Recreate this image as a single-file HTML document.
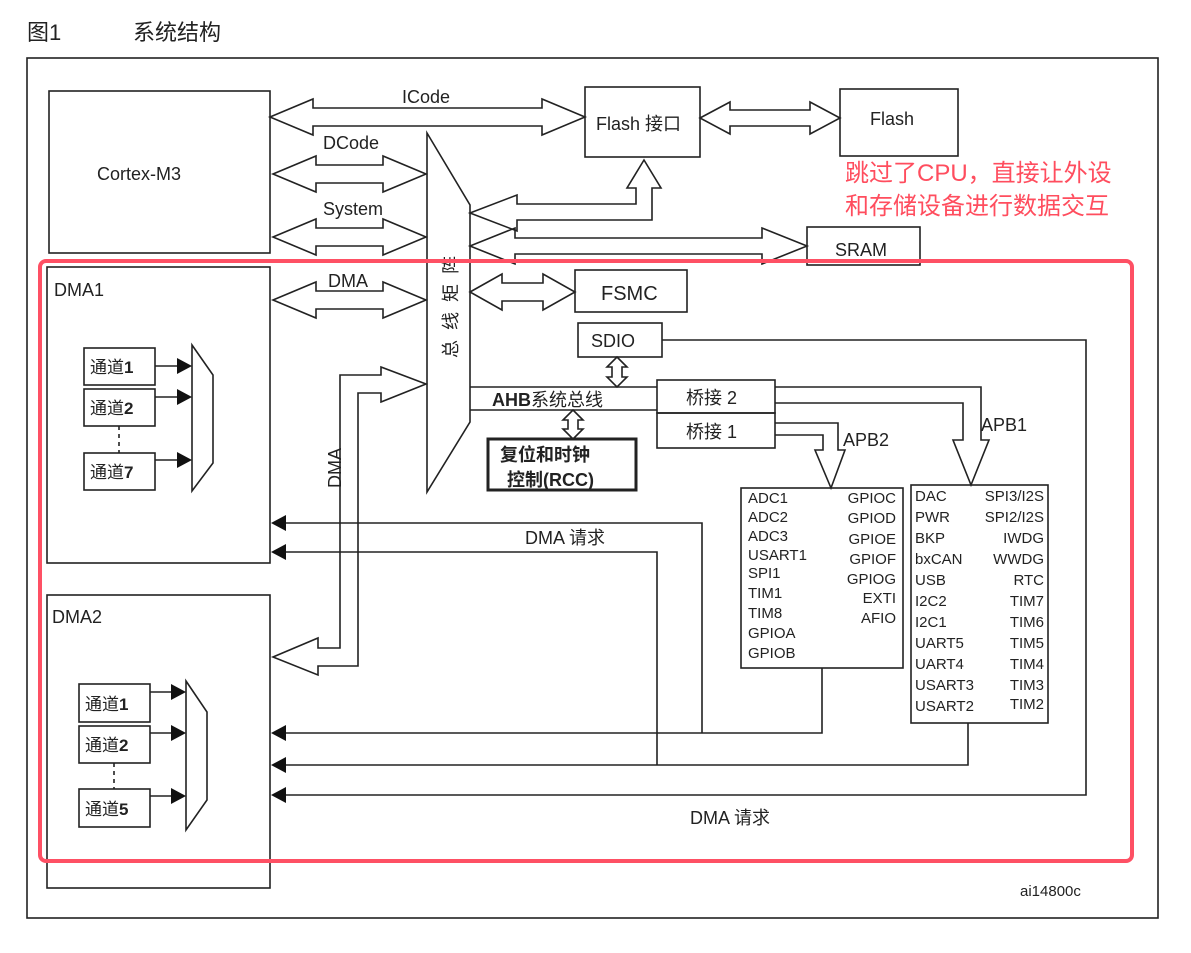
<!DOCTYPE html>
<html><head><meta charset="utf-8"><style>
html,body{margin:0;padding:0;background:#fff;}
svg{display:block;font-family:"Liberation Sans","Noto Sans CJK SC",sans-serif;}
</style></head><body>
<svg width="1191" height="953" viewBox="0 0 1191 953" xmlns="http://www.w3.org/2000/svg">
<text x="27" y="40" font-size="22" fill="#222">图1</text>
<text x="133" y="40" font-size="22" fill="#222">系统结构</text>
<g fill="none" stroke="#222" stroke-width="1.6">
<rect x="27" y="58" width="1131" height="860"/>
<rect x="49" y="91" width="221" height="162"/>
<rect x="47" y="267" width="223" height="296"/>
<rect x="47" y="595" width="223" height="293"/>
<rect x="585" y="87" width="115" height="70"/>
<rect x="840" y="89" width="118" height="67"/>
<rect x="807" y="227" width="113" height="38"/>
<rect x="575" y="270" width="112" height="42"/>
<rect x="578" y="323" width="84" height="34"/>
<rect x="488" y="439" width="148" height="51" stroke-width="3"/>
<rect x="657" y="380" width="118" height="33"/>
<rect x="657" y="413" width="118" height="35"/>
<rect x="741" y="488" width="162" height="180"/>
<rect x="911" y="485" width="137" height="238"/>
<polygon points="427,133 470,205 470,422 427,492" fill="#fff"/>
<polygon points="270,117 313,99 313,108 542,108 542,99 585,117 542,135 542,126 313,126 313,135"/>
<polygon points="273,174 316,156 316,165 383,165 383,156 426,174 383,192 383,183 316,183 316,192"/>
<polygon points="273,237 316,219 316,228 383,228 383,219 426,237 383,255 383,246 316,246 316,255"/>
<polygon points="273,300 316,282 316,291 383,291 383,282 426,300 383,318 383,309 316,309 316,318"/>
<polygon points="470,292 502,274 502,283 543,283 543,274 575,292 543,310 543,301 502,301 502,310"/>
<polygon points="700,118 730,102 730,110 810,110 810,102 840,118 810,134 810,126 730,126 730,134"/>
<polygon points="470,246 515,228 515,238 762,238 762,228 807,246 762,264 762,254 515,254 515,264"/>
<polygon points="470,213 517,195 517,204 636,204 636,188 627,188 644,160 661,188 652,188 652,220 517,220 517,231"/>
<polygon points="426,384 381,367 381,375 340,375 340,648 318,648 318,638 273,657 318,675 318,666 358,666 358,393 381,393 381,402"/>
<polygon points="617,357 627,367 622,367 622,377 627,377 617,387 607,377 612,377 612,367 607,367"/>
<polygon points="573,410 583,420 578,420 578,429 583,429 573,439 563,429 568,429 568,420 563,420"/>
<line x1="470" y1="387" x2="657" y2="387"/>
<line x1="470" y1="410" x2="657" y2="410"/>
<polyline points="775,423 838,423 838,450 845,450 831,488 815,450 823,450 823,435 775,435"/>
<polyline points="775,387 981,387 981,440 989,440 971,485 953,440 963,440 963,403 775,403"/>
<polyline points="284,523 702,523 702,733"/>
<polyline points="284,552 657,552 657,765"/>
<polyline points="284,733 822,733 822,668"/>
<polyline points="284,765 968,765 968,723"/>
<polyline points="662,340 1086,340 1086,795 284,795"/>
<rect x="84" y="348" width="71" height="37"/>
<rect x="84" y="389" width="71" height="37"/>
<rect x="84" y="453" width="71" height="37"/>
<polygon points="192,345 213,375 213,463 192,491" fill="#fff"/>
<line x1="155" y1="366" x2="178" y2="366"/>
<line x1="155" y1="397" x2="178" y2="397"/>
<line x1="155" y1="460" x2="178" y2="460"/>
<line x1="119" y1="426" x2="119" y2="453" stroke-dasharray="4,4"/>
<rect x="79" y="684" width="71" height="38"/>
<rect x="79" y="726" width="71" height="37"/>
<rect x="79" y="789" width="71" height="38"/>
<polygon points="186,681 207,712 207,800 186,830" fill="#fff"/>
<line x1="150" y1="692" x2="172" y2="692"/>
<line x1="150" y1="733" x2="172" y2="733"/>
<line x1="150" y1="796" x2="172" y2="796"/>
<line x1="114" y1="763" x2="114" y2="789" stroke-dasharray="4,4"/>
</g>
<g fill="#111">
<polygon points="192,366 177,358 177,374"/>
<polygon points="192,397 177,389 177,405"/>
<polygon points="192,460 177,452 177,468"/>
<polygon points="186,692 171,684 171,700"/>
<polygon points="186,733 171,725 171,741"/>
<polygon points="186,796 171,788 171,804"/>
<polygon points="271,523 286,515 286,531"/>
<polygon points="271,552 286,544 286,560"/>
<polygon points="271,733 286,725 286,741"/>
<polygon points="271,765 286,757 286,773"/>
<polygon points="271,795 286,787 286,803"/>
</g>
<g fill="#222" font-size="18">
<text x="97" y="180">Cortex-M3</text>
<text x="54" y="296">DMA1</text>
<text x="52" y="623">DMA2</text>
<text x="402" y="103">ICode</text>
<text x="323" y="149">DCode</text>
<text x="323" y="215">System</text>
<text x="328" y="287">DMA</text>
<text x="596" y="130">Flash 接口</text>
<text x="870" y="125">Flash</text>
<text x="835" y="256">SRAM</text>
<text x="601" y="300" font-size="20">FSMC</text>
<text x="591" y="347">SDIO</text>
<text x="492" y="406" font-weight="bold">AHB<tspan font-weight="normal">系统总线</tspan></text>
<text x="500" y="461" font-weight="bold">复位和时钟</text>
<text x="507" y="486" font-weight="bold">控制(RCC)</text>
<text x="686" y="404">桥接 2</text>
<text x="686" y="438">桥接 1</text>
<text x="843" y="446">APB2</text>
<text x="981" y="431">APB1</text>
<text x="525" y="544">DMA 请求</text>
<text x="690" y="824">DMA 请求</text>
<text x="1020" y="896" font-size="15">ai14800c</text>
<text transform="translate(341,488) rotate(-90)">DMA</text>
<text transform="translate(457,358) rotate(-90)" letter-spacing="10">总线矩阵</text>
</g>
<g fill="#222" font-size="17">
<text x="90" y="373">通道<tspan font-weight="bold">1</tspan></text>
<text x="90" y="414">通道<tspan font-weight="bold">2</tspan></text>
<text x="90" y="478">通道<tspan font-weight="bold">7</tspan></text>
<text x="85" y="710">通道<tspan font-weight="bold">1</tspan></text>
<text x="85" y="751">通道<tspan font-weight="bold">2</tspan></text>
<text x="85" y="815">通道<tspan font-weight="bold">5</tspan></text>
</g>
<g fill="#222" font-size="15">
<text x="748" y="503">ADC1</text><text x="748" y="522">ADC2</text><text x="748" y="541">ADC3</text>
<text x="748" y="560">USART1</text><text x="748" y="578">SPI1</text><text x="748" y="598">TIM1</text>
<text x="748" y="618">TIM8</text><text x="748" y="638">GPIOA</text><text x="748" y="658">GPIOB</text>
<g text-anchor="end">
<text x="896" y="503">GPIOC</text><text x="896" y="523">GPIOD</text><text x="896" y="544">GPIOE</text>
<text x="896" y="564">GPIOF</text><text x="896" y="584">GPIOG</text><text x="896" y="603">EXTI</text>
<text x="896" y="623">AFIO</text>
<text x="1044" y="501">SPI3/I2S</text><text x="1044" y="522">SPI2/I2S</text><text x="1044" y="543">IWDG</text>
<text x="1044" y="564">WWDG</text><text x="1044" y="585">RTC</text><text x="1044" y="606">TIM7</text>
<text x="1044" y="627">TIM6</text><text x="1044" y="648">TIM5</text><text x="1044" y="669">TIM4</text>
<text x="1044" y="690">TIM3</text><text x="1044" y="709">TIM2</text>
</g>
<text x="915" y="501">DAC</text><text x="915" y="522">PWR</text><text x="915" y="543">BKP</text>
<text x="915" y="564">bxCAN</text><text x="915" y="585">USB</text><text x="915" y="606">I2C2</text>
<text x="915" y="627">I2C1</text><text x="915" y="648">UART5</text><text x="915" y="669">UART4</text>
<text x="915" y="690">USART3</text><text x="915" y="711">USART2</text>
</g>
<g fill="#ff4d5e" font-size="24">
<text x="845" y="181">跳过了CPU，直接让外设</text>
<text x="845" y="214">和存储设备进行数据交互</text>
</g>
<rect x="40" y="261" width="1092" height="600" rx="6" fill="none" stroke="#fe5064" stroke-width="4"/>
</svg>
</body></html>
